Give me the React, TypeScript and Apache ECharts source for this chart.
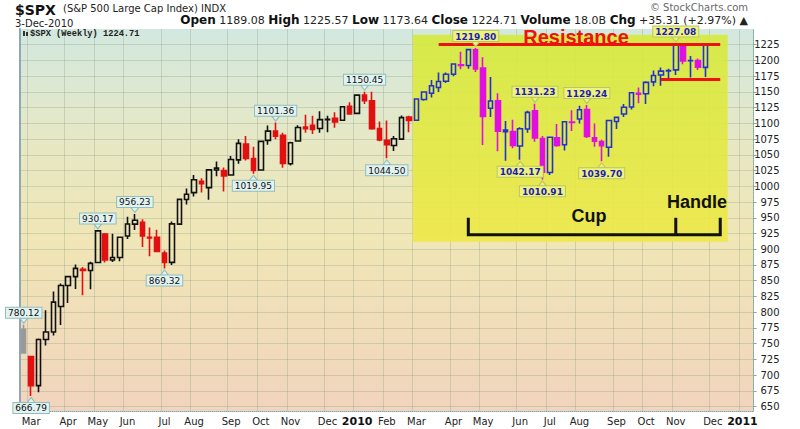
import React, { useEffect, useRef } from 'react';
import * as echarts from 'echarts';

// ---------- DATA ----------
const weeks: string[] = [
  '2009-02-27', '2009-03-06', '2009-03-13', '2009-03-20', '2009-03-27',
  '2009-04-03', '2009-04-09', '2009-04-17', '2009-04-24', '2009-05-01',
  '2009-05-08', '2009-05-15', '2009-05-22', '2009-05-29', '2009-06-05',
  '2009-06-12', '2009-06-19', '2009-06-26', '2009-07-02', '2009-07-10',
  '2009-07-17', '2009-07-24', '2009-07-31', '2009-08-07', '2009-08-14',
  '2009-08-21', '2009-08-28', '2009-09-04', '2009-09-11', '2009-09-18',
  '2009-09-25', '2009-10-02', '2009-10-09', '2009-10-16', '2009-10-23',
  '2009-10-30', '2009-11-06', '2009-11-13', '2009-11-20', '2009-11-27',
  '2009-12-04', '2009-12-11', '2009-12-18', '2009-12-24', '2009-12-31',
  '2010-01-08', '2010-01-15', '2010-01-22', '2010-01-29', '2010-02-05',
  '2010-02-12', '2010-02-19', '2010-02-26', '2010-03-05', '2010-03-12',
  '2010-03-19', '2010-03-26', '2010-04-01', '2010-04-09', '2010-04-16',
  '2010-04-23', '2010-04-30', '2010-05-07', '2010-05-14', '2010-05-21',
  '2010-05-28', '2010-06-04', '2010-06-11', '2010-06-18', '2010-06-25',
  '2010-07-02', '2010-07-09', '2010-07-16', '2010-07-23', '2010-07-30',
  '2010-08-06', '2010-08-13', '2010-08-20', '2010-08-27', '2010-09-03',
  '2010-09-10', '2010-09-17', '2010-09-24', '2010-10-01', '2010-10-08',
  '2010-10-15', '2010-10-22', '2010-10-29', '2010-11-05', '2010-11-12',
  '2010-11-19', '2010-11-26', '2010-12-03',
];
const futureWeeks: string[] = ['2010-12-10', '2010-12-17', '2010-12-23', '2010-12-31', '2011-01-07', '2011-01-14'];

const opens: number[] = [
  773, 729.57, 683.38, 756.55, 768.54,
  809.07, 842.5, 856.56, 868, 866.23,
  879, 924, 883, 887, 921,
  940, 943, 918, 919, 894,
  879.13, 940, 979, 990, 1008,
  998, 1026, 1025, 1018, 1042,
  1067, 1044, 1026, 1073, 1088,
  1081, 1036, 1072, 1094, 1097,
  1092, 1106, 1108, 1105, 1127,
  1116, 1145, 1136, 1092, 1073,
  1065, 1075, 1110, 1105, 1138,
  1148, 1157, 1167, 1178, 1193,
  1192, 1217, 1188, 1124, 1136,
  1087, 1087, 1064, 1091, 1120,
  1076, 1022, 1077, 1066, 1102,
  1107, 1122, 1077, 1071, 1062,
  1103, 1115, 1126, 1148, 1147,
  1166, 1177, 1184, 1185, 1225,
  1200, 1200, 1189.08,
];
const highs: number[] = [
  780.12, 729.57, 758.29, 803.04, 832.98,
  845.61, 856.91, 875.63, 871.79, 880,
  930.17, 926, 924.6, 920, 951.69,
  956.23, 947.5, 934.5, 931, 898,
  943.96, 979.42, 996.68, 1018, 1013,
  1027.59, 1039.47, 1030, 1048, 1074.77,
  1080.15, 1063, 1073, 1096.56, 1101.36,
  1085, 1071, 1097, 1113.69, 1112,
  1119.13, 1112, 1117.68, 1127, 1133.5,
  1145.39, 1150.45, 1150.41, 1103, 1104.73,
  1080, 1112.42, 1112, 1139, 1151,
  1169, 1180.9, 1181, 1195, 1213.92,
  1218, 1219.8, 1205, 1173.57, 1148,
  1104, 1105.67, 1094, 1120, 1131.23,
  1080, 1078, 1099, 1103, 1120.95,
  1128, 1129.24, 1100, 1074, 1105,
  1110.88, 1131, 1148.9, 1157.16, 1167,
  1184, 1189, 1187, 1227.08, 1226,
  1207, 1203, 1225.57,
];
const lows: number[] = [
  734.5, 666.79, 672.88, 747, 763,
  779.81, 814.5, 836.93, 826.83, 836.5,
  878.94, 879, 879.61, 881, 916.35,
  930.5, 903.5, 888.86, 896.42, 869.32,
  875, 940, 971, 984, 990,
  978.51, 1016, 991.97, 1017, 1036,
  1041, 1019.95, 1025, 1066, 1075,
  1029.38, 1033, 1072, 1085, 1083,
  1085, 1085.89, 1093, 1105, 1115,
  1116, 1131, 1090, 1071.59, 1044.5,
  1056, 1075, 1086, 1105, 1136,
  1141, 1150, 1164, 1175, 1186,
  1187, 1181.62, 1065.79, 1110, 1055.9,
  1040.78, 1060.5, 1042.17, 1085, 1071,
  1010.91, 1018, 1063, 1056.9, 1088,
  1100, 1076.6, 1063, 1039.7, 1047,
  1091, 1110, 1122, 1132, 1131,
  1159, 1159.7, 1171, 1177, 1194,
  1173, 1185, 1173.64,
];
const closes: number[] = [
  735.09, 683.38, 756.55, 768.54, 815.94,
  842.5, 856.56, 869.6, 866.23, 877.52,
  929.23, 882.88, 887, 919.14, 940.09,
  946.21, 921.23, 918.9, 896.42, 879.13,
  940.38, 979.26, 987.48, 1010.48, 1004.09,
  1026.13, 1028.93, 1016.4, 1042.73, 1068.3,
  1044.38, 1025.21, 1071.49, 1087.68, 1079.6,
  1036.19, 1069.3, 1093.48, 1091.38, 1090.5,
  1105.98, 1106.41, 1102.47, 1126.48, 1115.1,
  1144.98, 1136.03, 1091.76, 1073.87, 1066.19,
  1075.51, 1109.17, 1104.49, 1138.7, 1149.99,
  1159.9, 1166.59, 1178.1, 1194.37, 1192.13,
  1217.28, 1186.69, 1110.88, 1135.68, 1087.69,
  1089.41, 1064.88, 1091.6, 1117.51, 1076.76,
  1022.58, 1077.96, 1064.88, 1102.66, 1101.6,
  1121.64, 1079.25, 1071.69, 1064.59, 1104.51,
  1109.55, 1125.59, 1148.67, 1146.24, 1165.15,
  1176.19, 1183.08, 1183.26, 1225.85, 1199.21,
  1199.73, 1189.4, 1224.71,
];

const yTicks: number[] = [650, 675, 700, 725, 750, 775, 800, 825, 850, 875, 900, 925, 950, 975, 1000,
  1025, 1050, 1075, 1100, 1125, 1150, 1175, 1200, 1225];

const highCallouts: string[] = ['2009-02-27', '2009-05-08', '2009-06-12', '2009-10-23', '2010-01-15', '2010-04-30', '2010-06-25', '2010-08-13', '2010-11-05'];
const lowCallouts: string[] = ['2009-03-06', '2009-07-10', '2009-10-02', '2010-02-05', '2010-06-11', '2010-07-02', '2010-08-27'];

const highlightStart = '2010-03-05';
const resistanceLevel = 1226;
const handleSupport = 1170;
const volumeText = '18.0B';
const monthNames = ['Jan', 'Feb', 'Mar', 'Apr', 'May', 'Jun', 'Jul', 'Aug', 'Sep', 'Oct', 'Nov', 'Dec'];

// ---------- HELPERS ----------
const categories = [...weeks, ...futureWeeks];
const FONT = 'DejaVu Sans';

function mondayOf(d: string): Date {
  const t = new Date(d + 'T00:00:00Z');
  const dow = t.getUTCDay();
  return new Date(t.getTime() - (dow - 1) * 86400000);
}
const monthLabels: string[] = categories.map((d, i) => {
  if (i === 0) return '';
  const m = mondayOf(d), p = mondayOf(categories[i - 1]);
  if (m.getUTCMonth() === p.getUTCMonth()) return '';
  return m.getUTCMonth() === 0 ? `{yr|${m.getUTCFullYear()}}` : monthNames[m.getUTCMonth()];
});

const hlIdx = weeks.indexOf(highlightStart);
const COLORS = {
  up: '#111111', down: '#e21010', hUp: '#2233cc', hDown: '#e010e0', first: '#9a9a9a',
};

function candleData() {
  return weeks.map((w, i) => {
    const o = opens[i], c = closes[i], l = lows[i], h = highs[i];
    let stroke: string;
    if (i === 0) stroke = COLORS.first;
    else {
      const up = c >= closes[i - 1];
      if (i >= hlIdx) stroke = up ? COLORS.hUp : COLORS.hDown;
      else stroke = up ? COLORS.up : COLORS.down;
    }
    const fill = i === 0 ? COLORS.first : (c > o ? 'rgba(0,0,0,0)' : stroke);
    return {
      value: [o, c, l, h],
      itemStyle: { color: fill, color0: fill, borderColor: stroke, borderColor0: stroke, borderWidth: 1.6 },
    };
  });
}

function callout(date: string, isHigh: boolean) {
  const i = weeks.indexOf(date);
  const v = isHigh ? highs[i] : lows[i];
  const inHl = i >= hlIdx;
  const bg = inHl ? '#eff27c' : '#e1f3f1';
  const bd = inHl ? '#b9c765' : '#92bdbb';
  return {
    coord: [date, v],
    symbol: 'triangle',
    symbolSize: [8, 5],
    symbolRotate: isHigh ? 180 : 0,
    symbolOffset: [0, isHigh ? -4 : 4],
    itemStyle: { color: bg, borderColor: bd, borderWidth: 1 },
    label: {
      show: true,
      position: isHigh ? 'top' : 'bottom',
      distance: 0,
      formatter: v.toFixed(2),
      backgroundColor: bg,
      borderColor: bd,
      borderWidth: 1,
      padding: [1, 2, 0, 2],
      color: inHl ? '#1d1db4' : '#111111',
      fontWeight: inHl ? 'bold' : 'normal',
      fontFamily: FONT,
      fontSize: 9,
    },
  };
}

const GRID_LEFT = 20;
const GRID_TOP = 29;
const GRID_H = 382;
const BAND = 7.41;

function buildOption(): any {
  return {
    animation: false,
    backgroundColor: '#ffffff',
    grid: {
      left: GRID_LEFT, top: GRID_TOP, width: BAND * categories.length, height: GRID_H,
      show: true, borderWidth: 0,
      backgroundColor: new echarts.graphic.LinearGradient(0, 0, 0, 1, [
        { offset: 0, color: '#d2e8df' },
        { offset: 0.3, color: '#e7e8c4' },
        { offset: 0.55, color: '#f0e6b6' },
        { offset: 1, color: '#f1d4bd' },
      ]),
    },
    xAxis: {
      type: 'category',
      data: categories,
      boundaryGap: true,
      axisLine: { show: true, lineStyle: { color: '#7fa9a6', type: 'dotted', width: 1 } },
      axisTick: { show: false },
      axisLabel: {
        interval: (i: number) => monthLabels[i] !== '',
        formatter: (_v: string, i: number) => monthLabels[i],
        margin: 5,
        color: '#222',
        fontFamily: FONT,
        fontSize: 10,
        rich: { yr: { fontWeight: 'bold', fontSize: 11, fontFamily: FONT, color: '#111' } },
      },
      splitLine: {
        show: true,
        interval: (i: number) => monthLabels[i] !== '',
        lineStyle: { color: 'rgba(140,160,135,0.32)', width: 1 },
      },
    },
    yAxis: [
      {
        type: 'value', position: 'right', min: 643, max: 1250,
        axisLine: { show: true, lineStyle: { color: '#7fa9a6', type: 'dotted', width: 1 } },
        axisTick: { show: true, customValues: yTicks, length: 3, lineStyle: { color: '#7fa9a6' } },
        axisLabel: {
          customValues: yTicks, align: 'right', margin: 26,
          formatter: (v: number) => String(v),
          color: '#222', fontFamily: FONT, fontSize: 10,
        },
        splitLine: { show: true, lineStyle: { color: 'rgba(140,160,135,0.32)', width: 1 } },
      },
      {
        type: 'value', position: 'left', min: 643, max: 1250,
        axisLine: { show: true, lineStyle: { color: '#8fa6b4', width: 2 } },
        axisTick: { show: false }, axisLabel: { show: false }, splitLine: { show: false },
      },
    ],
    series: [
      {
        type: 'candlestick',
        name: '$SPX',
        yAxisIndex: 0,
        barWidth: 5,
        data: candleData(),
        markLine: {
          silent: true,
          symbol: ['none', 'none'],
          label: { show: false },
          lineStyle: { color: '#ee1111', width: 3, type: 'solid' },
          data: [
            [{ coord: [weeks[56], resistanceLevel] }, { coord: [futureWeeks[1], resistanceLevel] }],
            [{ coord: [weeks[86], handleSupport] }, { coord: [futureWeeks[1], handleSupport] }],
          ],
        },
        markPoint: {
          silent: true,
          data: [
            ...highCallouts.map((d) => callout(d, true)),
            ...lowCallouts.map((d) => callout(d, false)),
          ],
        },
      },
    ],
  };
}

export default function App() {
  const ref = useRef<HTMLDivElement>(null);
  useEffect(() => {
    const el = ref.current!;
    const chart = echarts.init(el, null, { renderer: 'svg', width: 800, height: 429 });
    chart.setOption(buildOption());

    const px = (d: string, v: number) => chart.convertToPixel({ seriesIndex: 0 }, [d, v]) as number[];
    const last = weeks.length - 1;
    const band = px(weeks[1], 1000)[0] - px(weeks[0], 1000)[0];
    const boxTL = px(highlightStart, 1241);
    const boxBR = px(futureWeeks[2], 912);
    const boxLeft = boxTL[0] - band / 2;

    const bl = px(weeks[60], 923), bm = px(weeks[88], 923), br = px(futureWeeks[1], 923);
    const tickTop = px(weeks[60], 950)[1];

    const chg = closes[last] - closes[last - 1];
    const pct = (chg / closes[last - 1]) * 100;
    const hdr = `{b|Open} {n|${opens[last].toFixed(2)}} {b|High} {n|${highs[last].toFixed(2)}} {b|Low} {n|${lows[last].toFixed(2)}} {b|Close} {n|${closes[last].toFixed(2)}} {b|Volume} {n|${volumeText}} {b|Chg} {n|${chg >= 0 ? '+' : ''}${chg.toFixed(2)} (${chg >= 0 ? '+' : ''}${pct.toFixed(2)}%) ▲}`;

    chart.setOption({
      graphic: [
        {
          type: 'rect', z: 0, silent: true,
          shape: { x: boxLeft, y: boxTL[1], width: boxBR[0] - boxLeft, height: boxBR[1] - boxTL[1] },
          style: {
            fill: new echarts.graphic.LinearGradient(0, 0, 0, 1, [
              { offset: 0, color: 'rgba(214,234,58,0.9)' },
              { offset: 1, color: 'rgba(238,232,72,0.9)' },
            ]),
          },
        },
        {
          type: 'polyline', z: 10, silent: true,
          shape: { points: [[bl[0], tickTop], [bl[0], bl[1]], [br[0], br[1]], [br[0], tickTop]] },
          style: { stroke: '#111', lineWidth: 3, fill: null },
        },
        {
          type: 'line', z: 10, silent: true,
          shape: { x1: bm[0], y1: tickTop, x2: bm[0], y2: bm[1] },
          style: { stroke: '#111', lineWidth: 3 },
        },
        {
          type: 'text', z: 10, silent: true,
          style: { text: 'Cup', x: 589, y: 216, align: 'center', verticalAlign: 'middle', font: 'bold 18px "Liberation Sans"', fill: '#111' },
        },
        {
          type: 'text', z: 10, silent: true,
          style: { text: 'Handle', x: 697, y: 202, align: 'center', verticalAlign: 'middle', font: 'bold 18px "Liberation Sans"', fill: '#111' },
        },
        {
          type: 'text', z: 10, silent: true,
          style: { text: 'Resistance', x: 576, y: 37, align: 'center', verticalAlign: 'middle', font: 'bold 20px "Liberation Sans"', fill: '#ee1111' },
        },
        // header
        {
          type: 'text', z: 10, silent: true,
          style: { text: '$SPX', x: 15, y: 9.5, align: 'left', verticalAlign: 'middle', font: `bold 14px "${FONT}"`, fill: '#111' },
        },
        {
          type: 'text', z: 10, silent: true,
          style: { text: '(S&P 500 Large Cap Index) INDX', x: 63, y: 8, align: 'left', verticalAlign: 'middle', font: `10px "${FONT}"`, fill: '#222' },
        },
        {
          type: 'text', z: 10, silent: true,
          style: { text: '3-Dec-2010', x: 15, y: 23, align: 'left', verticalAlign: 'middle', font: `10px "${FONT}"`, fill: '#222' },
        },
        {
          type: 'text', z: 10, silent: true,
          style: {
            text: hdr, x: 748, y: 20, align: 'right', verticalAlign: 'middle',
            font: `11px "${FONT}"`, fill: '#222',
            rich: {
              b: { fontWeight: 'bold', fontSize: 12, fontFamily: FONT, fill: '#111' },
              n: { fontSize: 11, fontFamily: FONT, fill: '#222' },
            },
          },
        },
        {
          type: 'text', z: 10, silent: true,
          style: { text: '© StockCharts.com', x: 748, y: 7.5, align: 'right', verticalAlign: 'middle', font: `10px "${FONT}"`, fill: '#6a6a6a' },
        },
        {
          type: 'rect', z: 10, silent: true,
          shape: { x: 23, y: 31, width: 2, height: 5 },
          style: { fill: '#333' },
        },
        {
          type: 'rect', z: 10, silent: true,
          shape: { x: 26, y: 32, width: 2, height: 4 },
          style: { fill: '#333' },
        },
        {
          type: 'text', z: 10, silent: true,
          style: { text: `$SPX (Weekly) ${closes[last].toFixed(2)}`, x: 30, y: 34, align: 'left', verticalAlign: 'middle', font: 'bold 8.7px "Liberation Mono"', fill: '#222' },
        },
      ],
    });
    return () => chart.dispose();
  }, []);
  return <div ref={ref} style={{ position: 'absolute', left: 0, top: 0, width: 800, height: 429 }} />;
}
